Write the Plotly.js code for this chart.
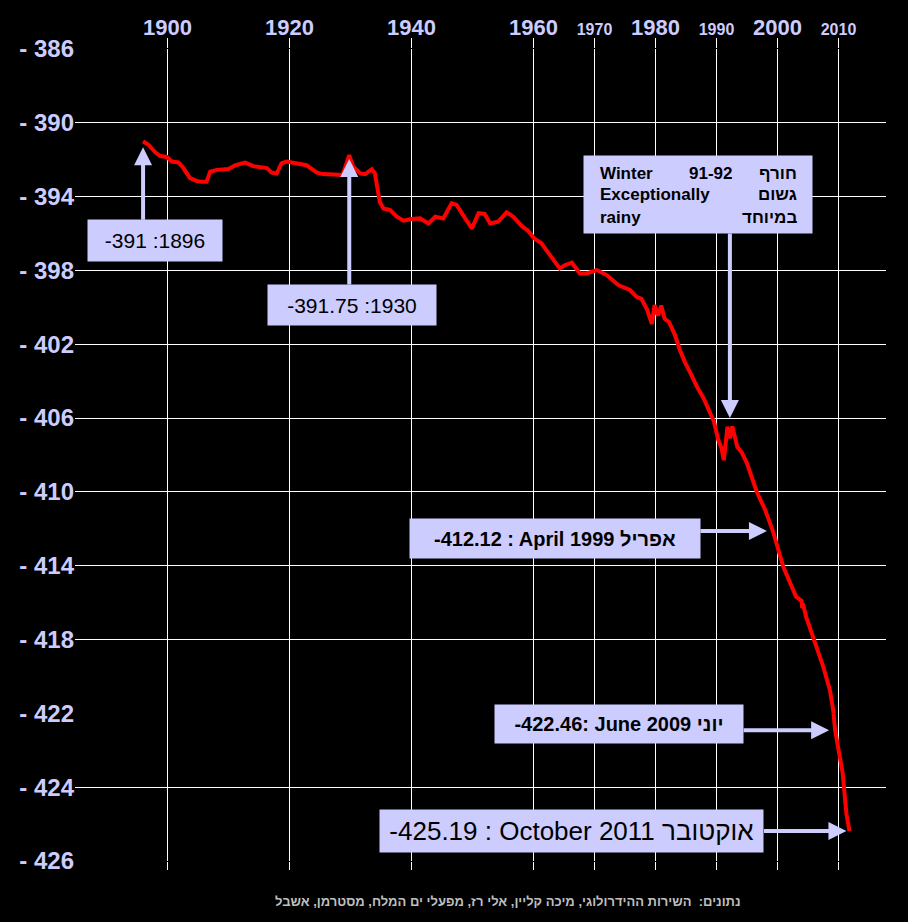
<!DOCTYPE html>
<html>
<head>
<meta charset="utf-8">
<script src="https://cdn.plot.ly/plotly-3.0.1.min.js"></script>
<style>
  html, body { margin: 0; padding: 0; background: #000; }
  #chart { width: 908px; height: 922px; }
</style>
</head>
<body>
<div id="chart"></div>
<script>
// Dead Sea water level (metres below sea level), 1896 - 2011
const years = [
  1896.0, 1896.9, 1898.0, 1898.8, 1899.9, 1900.7, 1901.8, 1902.6, 1903.7, 1904.8,
  1905.6, 1906.4, 1907.0, 1908.1, 1910.0, 1911.1, 1912.7, 1914.1, 1916.3, 1917.1,
  1917.9, 1918.7, 1919.5, 1921.4, 1922.8, 1924.5, 1925.5, 1927.3, 1928.7, 1929.8,
  1930.4, 1931.6, 1932.4, 1933.5, 1934.0, 1934.8, 1935.4, 1936.5, 1937.6, 1938.7,
  1940.0, 1941.4, 1942.8, 1943.9, 1945.2, 1946.6, 1947.4, 1948.8, 1949.9, 1951.0,
  1952.0, 1952.9, 1954.2, 1955.6, 1956.7, 1958.1, 1959.1, 1960.1, 1961.3, 1962.7,
  1964.3, 1965.2, 1966.3, 1967.6, 1968.7, 1970.4, 1972.0, 1973.9, 1975.8, 1976.9,
  1977.7, 1978.6, 1979.4, 1979.85, 1980.4, 1980.95, 1981.5, 1982.2, 1983.2, 1984.0,
  1984.8, 1985.9, 1986.8, 1987.9, 1988.9, 1989.6, 1990.3, 1990.8, 1991.2, 1991.8,
  1992.2, 1992.6, 1993.4, 1994.2, 1995.0, 1996.0, 1996.6, 1998.0, 1999.25, 2000.95,
  2001.95, 2003.05, 2003.95, 2004.05, 2004.15, 2004.7, 2005.9, 2006.2, 2007.5, 2008.6,
  2008.9, 2009.45, 2010.1, 2010.7, 2010.95, 2011.3, 2011.8
];
const levels = [
  -391.0, -391.2, -391.6, -391.8, -391.85, -392.1, -392.15, -392.45, -393.0, -393.15,
  -393.2, -393.2, -392.65, -392.55, -392.5, -392.3, -392.15, -392.35, -392.45, -392.7,
  -392.75, -392.2, -392.1, -392.2, -392.3, -392.7, -392.78, -392.8, -392.83, -391.75,
  -392.35, -392.74, -392.78, -392.52, -392.74, -394.28, -394.64, -394.73, -395.09, -395.3,
  -395.21, -395.18, -395.45, -395.09, -395.18, -394.36, -394.45, -395.18, -395.72, -394.9,
  -394.94, -395.45, -395.36, -394.85, -395.09, -395.6, -395.85, -396.26, -396.53, -397.17,
  -397.89, -397.71, -397.58, -398.16, -398.16, -397.98, -398.25, -398.79, -399.06, -399.43,
  -399.54, -400.1, -400.9, -399.88, -400.45, -399.9, -400.62, -400.78, -401.5, -402.31,
  -402.95, -403.67, -404.3, -404.93, -405.66, -406.2, -407.19, -407.6, -408.28, -406.47,
  -407.1, -406.45, -407.55, -407.9, -408.45, -409.45, -409.99, -410.99, -412.12, -414.06,
  -414.78, -415.68, -415.9, -416.3, -416.05, -416.77, -417.94, -418.2, -419.47, -420.74,
  -421.5, -422.46, -423.09, -423.63, -424.1, -424.72, -425.19
];

// Axis ticks: the upper panel runs in 4 m steps, the lower panel in 2 m steps
const upperTicks = [-386, -390, -394, -398, -402, -406, -410, -414, -418, -422];
const upperTickLabels = ['- 386', '- 390', '- 394', '- 398', '- 402', '- 406', '- 410', '- 414', '- 418', '- 422'];
const lowerTicks = [-422, -424, -426];
const lowerTickLabels = ['', '- 424', '- 426'];
const yearTicks = [1900, 1920, 1940, 1960, 1970, 1980, 1990, 2000, 2010];
const yearTickLabels = ['1900', '1920', '1940', '1960', '1970', '1980', '1990', '2000', '2010'];
const smallYearLabels = ['1970', '1990', '2010'];

// Marked readings
const calloutYears = [1896, 1929.8, 1999.25, 2009.45, 2011.8];
const calloutLevels = [-391, -391.75, -412.12, -422.46, -425.19];
const calloutTexts = [
  '-391 :1896',
  '-391.75 :1930',
  '-412.12 : April 1999 אפריל',
  '-422.46: June 2009 יוני',
  '-425.19 : October 2011 אוקטובר'
];
const winterYear = 1992.2;
const winterLevel = -406.0;
const sourceText = 'נתונים:  השירות ההידרולוגי, מיכה קליין, אלי רז, מפעלי ים המלח, מסטרמן, אשבל';

const FONT = 'Arial, "Liberation Sans", sans-serif';
const LAV = '#ccccff';
const WHITE = '#ffffff';

const yearText = yearTickLabels.map(t =>
  smallYearLabels.includes(t) ? '<span style="font-size:16px">' + t + '</span>' : t);

const lineStyle = { color: '#ff0000', width: 4 };
const traces = [
  { x: years, y: levels, xaxis: 'x', yaxis: 'y', mode: 'lines', line: lineStyle, hoverinfo: 'skip' },
  { x: years, y: levels, xaxis: 'x2', yaxis: 'y2', mode: 'lines', line: lineStyle, hoverinfo: 'skip' }
];

const xRange = [1884.84, 2017.79];
const yTickFont = { family: FONT, size: 24, color: LAV, weight: 'bold' };

function arrow(i, xref, yref, ax, ay, standoff) {
  return {
    x: calloutYears[i], y: calloutLevels[i], xref: xref, yref: yref,
    text: '', showarrow: true, ax: ax, ay: ay, borderpad: 0,
    arrowhead: 2, arrowsize: 0.9, arrowwidth: 4, arrowcolor: LAV, standoff: standoff
  };
}
function box(i, cx, cy, w, h, size, weight) {
  return {
    xref: 'paper', yref: 'paper', x: cx, y: cy, xanchor: 'center', yanchor: 'middle',
    text: calloutTexts[i], showarrow: false, bgcolor: LAV, width: w, height: h, borderpad: 0,
    font: { family: FONT, size: size, color: '#000', weight: weight }
  };
}
function note(text, x, y, xanchor) {
  return {
    xref: 'paper', yref: 'paper', x: x, y: y, xanchor: xanchor, yanchor: 'middle',
    text: text, showarrow: false,
    font: { family: FONT, size: 17, color: '#000', weight: 'bold' }
  };
}

const annotations = [
  arrow(0, 'x', 'y', 0, 79, 6),
  arrow(1, 'x', 'y', 0, 130, 4),
  arrow(2, 'x', 'y', -73, 0, 6),
  arrow(3, 'x2', 'y2', -92, 0, 6),
  arrow(4, 'x2', 'y2', -86, 0, 3),
  box(0, 0.0986, 0.7642, 134, 41, 21, 'normal'),
  box(1, 0.3416, 0.6847, 168, 40, 21, 'normal'),
  box(2, 0.5919, 0.3972, 290, 39, 20, 'bold'),
  box(3, 0.6708, 0.1687, 248, 38, 20, 'bold'),
  box(4, 0.6122, 0.0369, 383, 42, 26, 'normal'),
  // winter 91-92 note
  {
    xref: 'paper', yref: 'paper', x: 0.7682, y: 0.8208, xanchor: 'center', yanchor: 'middle',
    text: ' ', showarrow: false, bgcolor: LAV, width: 228, height: 77, borderpad: 0
  },
  {
    x: winterYear, y: winterLevel, xref: 'x', yref: 'y', text: '', showarrow: true,
    ax: 0, ay: -185, borderpad: 0, arrowhead: 2, arrowsize: 0.9, arrowwidth: 4, arrowcolor: LAV
  },
  note('Winter', 0.6449, 0.8469, 'left'),
  note('91-92', 0.7542, 0.8469, 'left'),
  note('חורף', 0.8927, 0.8469, 'right'),
  note('Exceptionally', 0.6449, 0.8202, 'left'),
  note('גשום', 0.8927, 0.8202, 'right'),
  note('rainy', 0.6449, 0.7927, 'left'),
  note('במיוחד', 0.8927, 0.7927, 'right'),
  {
    xref: 'paper', yref: 'paper', x: 0.534, y: -0.0493, xanchor: 'center', yanchor: 'middle',
    text: sourceText, showarrow: false,
    font: { family: FONT, size: 13, color: '#bfbfbf', weight: 'bold' }
  }
];

const layout = {
  width: 908, height: 922,
  paper_bgcolor: '#000', plot_bgcolor: '#000',
  margin: { l: 75, r: 22, t: 49, b: 61, pad: 0 },
  showlegend: false,
  xaxis: {
    domain: [0, 1], anchor: 'y', side: 'top', range: xRange,
    tickmode: 'array', tickvals: yearTicks, ticktext: yearText,
    ticks: 'outside', ticklen: 10, tickwidth: 1, tickcolor: WHITE,
    showgrid: true, gridcolor: WHITE, gridwidth: 1, zeroline: false, showline: false,
    tickfont: { family: FONT, size: 22, color: LAV, weight: 'bold' }, ticklabelstandoff: -6,
    fixedrange: true
  },
  xaxis2: {
    domain: [0, 1], anchor: 'y2', side: 'bottom', range: xRange,
    tickmode: 'array', tickvals: yearTicks, showticklabels: false,
    ticks: 'outside', ticklen: 8, tickwidth: 1, tickcolor: WHITE,
    showgrid: true, gridcolor: WHITE, gridwidth: 1, zeroline: false, showline: false,
    fixedrange: true
  },
  yaxis: {
    domain: [2 / 11, 1], anchor: 'x', range: [-422, -386],
    tickmode: 'array', tickvals: upperTicks, ticktext: upperTickLabels,
    ticks: '', showgrid: true, gridcolor: WHITE, gridwidth: 1, zeroline: false, showline: false,
    tickfont: yTickFont, fixedrange: true
  },
  yaxis2: {
    domain: [0, 2 / 11], anchor: 'x2', range: [-426, -422],
    tickmode: 'array', tickvals: lowerTicks, ticktext: lowerTickLabels,
    ticks: '', showgrid: true, gridcolor: WHITE, gridwidth: 1, zeroline: false, showline: false,
    tickfont: yTickFont, fixedrange: true
  },
  annotations: annotations
};

Plotly.newPlot('chart', traces, layout, { staticPlot: true, displayModeBar: false });
</script>
</body>
</html>
